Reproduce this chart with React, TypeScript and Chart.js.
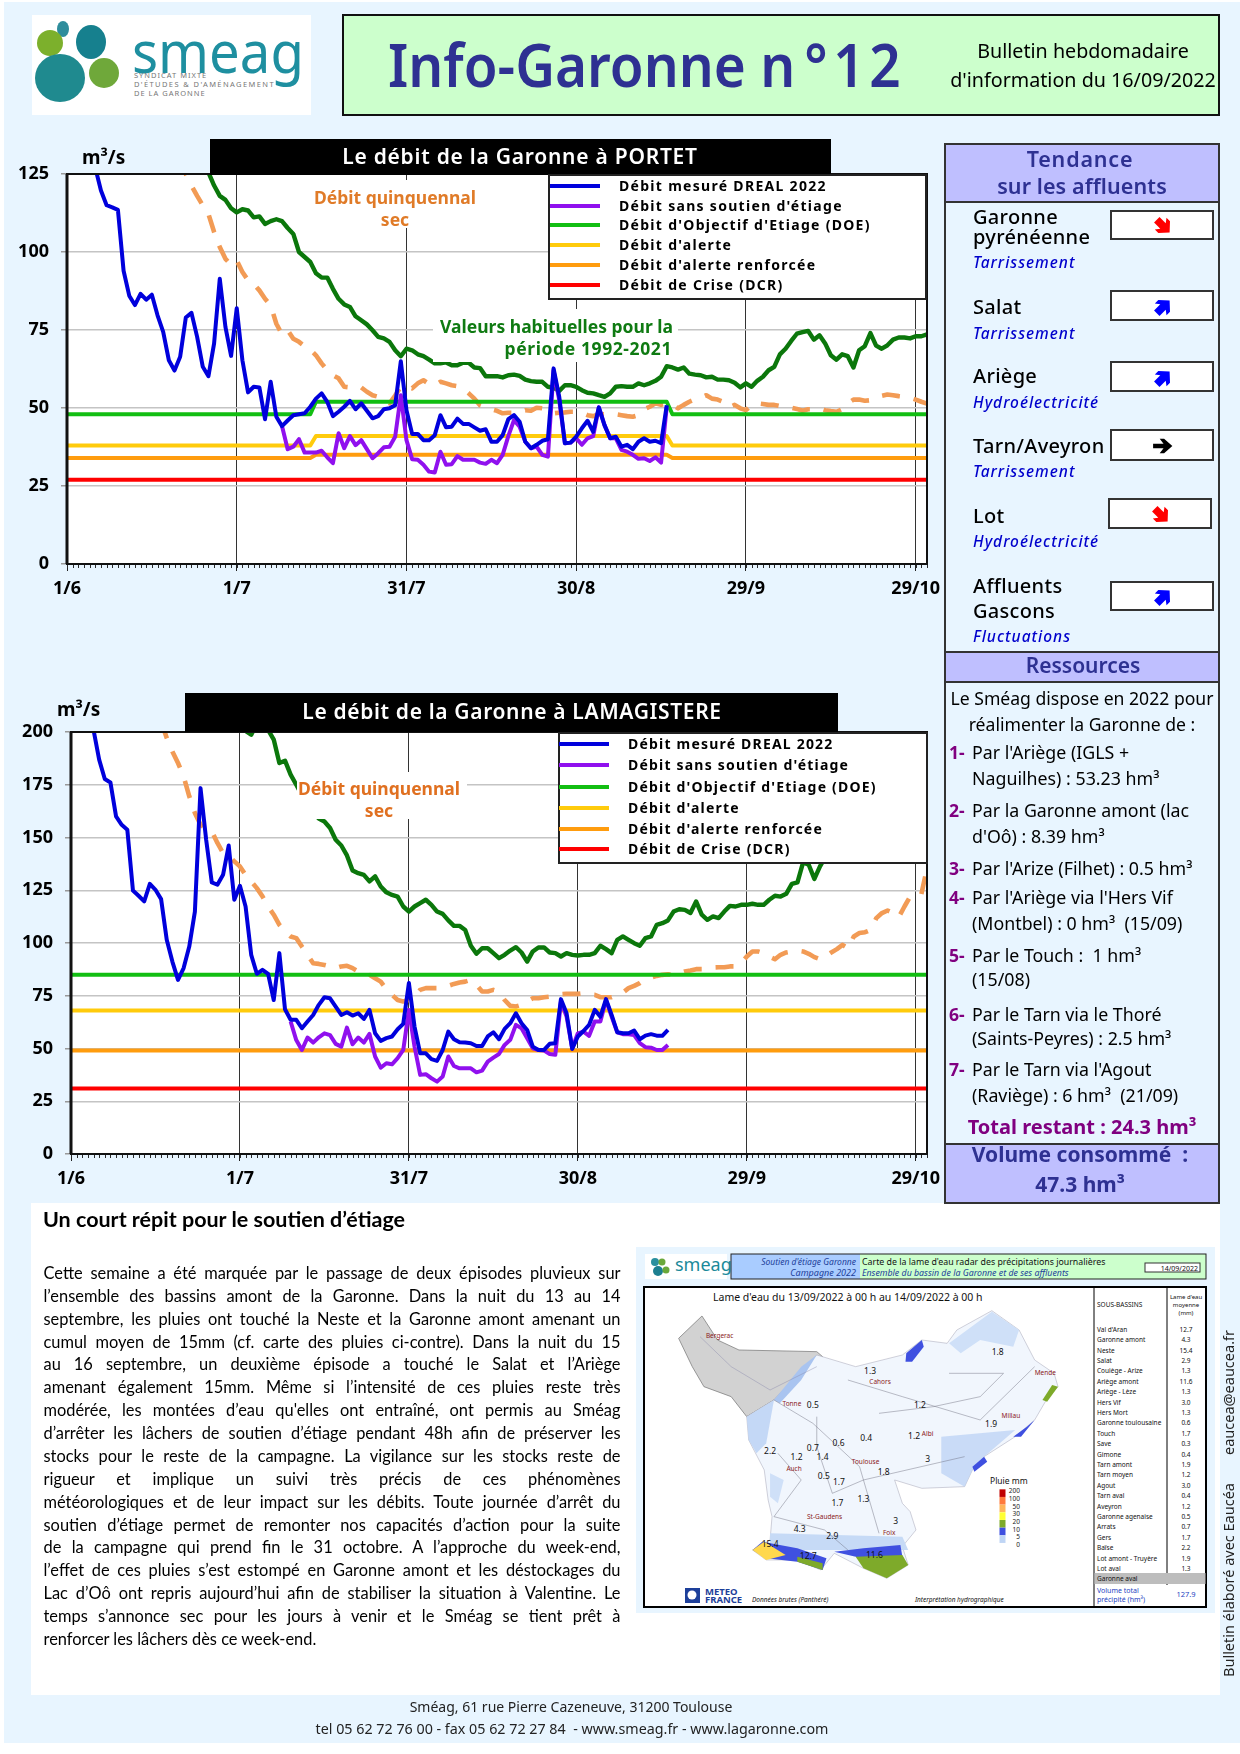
import React, { useEffect, useRef } from "react";
import { Chart, registerables } from "chart.js";

Chart.register(...registerables);

// ---------- shared axis data ----------
const xTickDays = [0, 30, 60, 90, 120, 150];
const xTickLabels = ["1/6", "1/7", "31/7", "30/8", "29/9", "29/10"];

// ---------- PORTET (index = days after 1 June) ----------
const portetMeasured = [
  null, null, null, null, 135, 127, 119.7, 115, 114.3, 113.5, 94, 86, 83, 86.6, 84.7, 86.3, 79.7, 74.4, 65.3, 62,
  66.4, 79, 80.5, 72.8, 63.2, 60.2, 70.7, 91.4, 76, 66.7, 82, 65.3, 55, 56.8, 56.6, 46.4, 58.4, 47.2, 44.2, 46,
  47.7, 48, 48.3, 50.4, 53, 54.7, 52, 47.4, 48.8, 50.4, 52.3, 49.6, 51.5, 49.1, 46.7, 47.4, 49.6, 49.9, 50.9, 65,
  49.3, 41.7, 41.7, 39.7, 39.7, 41.3, 47.7, 43.8, 44, 46.6, 44.9, 44.9, 43.8, 42.7, 43.2, 39.2, 39.2, 41.3, 46.4, 47.7,
  45.6, 39.2, 37.1, 38.2, 39.5, 40, 62.7, 53.6, 38.7, 38.9, 40.8, 43.5, 45.9, 42.4, 50.2, 44.5, 40.3, 40.8, 37.6, 38.2,
  36.8, 39.2, 40.3, 39.2, 39.5, 38.7, 50.9,
];
const portetNatural = [
  ...new Array(38).fill(null), 44.2, 36.8,
  37.6, 40, 35.7, 35.7, 35.7, 36.3, 34.2, 32.3, 41.9, 37.1, 41, 38.1, 39.7, 36.8, 33.9, 35.5, 37.4, 37.6, 40.8, 54.1,
  39.7, 33.6, 33.4, 31.8, 29.6, 29.3, 36, 31.8, 32, 34.6, 33.4, 33.4, 33.4, 32.5, 32.1, 33.4, 32.3, 35, 41, 46.1,
  44, 39.2, 37.1, 37.6, 35, 34.4, 62.1, 52.5, 38.7, 38.9, 40.3, 38.2, 40.3, 41, 50.2, 44.5, 40.3, 40.3, 36.6, 36,
  35, 33.7, 33.9, 33, 34.2, 32.5, 50.4,
];
const portetUsual = [
  ...new Array(24).fill(null), 131, 125.5, 121.3, 118, 116.7, 114, 112.7, 113.7, 113.3, 111.1, 111.4, 109, 109.9, 110.5, 109.9, 107.7,
  105.8, 100, 98.4, 96.8, 93.2, 91.8, 91.8, 88.2, 85, 83.2, 82.4, 79.4, 78.1, 76.8, 74.9, 72.8, 72.3, 71.2, 68.5, 66.6,
  69, 68.5, 67.2, 66.6, 65.5, 64.3, 64.3, 64.6, 63.7, 63.7, 64.5, 64.5, 63, 62.8, 60.2, 60.2, 60.2, 59.8, 60.5, 60.7,
  60.3, 59.1, 58.6, 58.4, 58.4, 56.8, 56.5, 55.5, 57.3, 57.3, 56.8, 55.7, 54.9, 54.7, 54.1, 53.6, 54.7, 56.8, 57, 56.8,
  56.8, 57.9, 57.3, 57.9, 58.7, 60, 63.4, 63, 62.3, 63, 61, 60.7, 60.5, 59.8, 60, 59.1, 59.1, 58.9, 58.1, 56.6,
  57.9, 56.8, 58.7, 60, 62.1, 63.2, 67.2, 69, 71.5, 73.8, 74.3, 74.7, 71.9, 73.3, 70.7, 66.9, 65.5, 67.2, 66.6, 63,
  68.5, 69.8, 74, 70, 69, 70.1, 71.9, 72.6, 72.6, 72.3, 73, 73, 73.6,
];
const portetDry = [
  ...new Array(20).fill(null), 130, 125, 121.3, 118, 114.9, 112.2, 106.4, 101.6, 97.8, 95.9, 97.3, 93.6, 90.9, 89.8, 87.7, 85, 82.9, 77, 73.6, 74.9,
  72.2, 71.2, 69.8, 68.7, 66.9, 64.3, 62.1, 60.5, 59.5, 56.8, 56.6, 57, 56.6, 55.2, 54.1, 53.6, 52.5, 51.5, 54, 56.8,
  57, 56.3, 57.9, 58.9, 57.7, 57.3, 58.4, 57.9, 57.3, 57, 56.3, 54.7, 53, 50.9, 50.2, 49.6, 49.1, 48.3, 48.5, 48.5,
  48.7, 49.3, 49.1, 50.1, 49.9, 48.8, 48.3, 48.5, 48.6, 48.8, 48.8, 48.5, 47.7, 47.4, 48, 48, 48.3, 48, 47.7, 47.4,
  47.2, 47.7, 49.6, 50.4, 51.5, 51, 51.5, 51, 49.9, 51, 52, 52.8, 53.3, 54.1, 53, 52.7, 52, 50.2, 51, 49.9,
  49.3, 51, 51.5, 51.3, 51, 51, 50.6, 50.4, 50.1, 49.7, 49.1, 49.6, 49.6, 49.9, 49.3, 49, 48.8, 49.6, 51.5, 52.7,
  52.7, 52.3, 52.5, 53.4, 53.9, 54.3, 54.1, 53.8, 53.6, 53.3, 52.7, 52, 51.4,
];
const portetThresholdDays = [0, 43, 44, 106, 107, 152];
const portetDoe = [48, 48, 52, 52, 48, 48];
const portetAlert = [38, 38, 41, 41, 38, 38];
const portetReinforced = [34, 34, 35, 35, 34, 34];
const portetCrisis = [27, 27, 27, 27, 27, 27];
const portetTicks = [0, 25, 50, 75, 100, 125];

// ---------- LAMAGISTERE ----------
const lamaMeasured = [
  null, null, null, null, 201, 186.9, 177.7, 176.1, 160, 156, 153.7, 124.9, 122.4, 119.7, 128, 125.2, 120.8, 101.5, 91.2, 82.5,
  88.1, 98.3, 114.9, 173.4, 148.9, 128.7, 127.6, 132.3, 146.2, 120.5, 127.1, 117.3, 94.4, 85.4, 87.3, 85.4, 73, 95.2, 68.6, 63.6,
  63.6, 59.6, 62.8, 65.9, 70.7, 74.3, 73.8, 69.9, 65.9, 67.2, 65.6, 66.7, 64, 68.3, 57.2, 53.6, 54.9, 55.7, 59.1, 61.7,
  81, 60.4, 47.7, 47.7, 45, 44.1, 49.3, 58, 54.4, 53, 52.8, 52.5, 51.2, 51.2, 55.7, 57.7, 54.4, 59.3, 62, 66.7,
  62, 58.8, 50.9, 49.3, 49.3, 52.2, 52.5, 73.4, 66.7, 49.8, 55.7, 58.3, 61.2, 68.3, 65.1, 73.4, 65.9, 57.7, 57.2, 57.2,
  58.5, 54.4, 56.1, 56.8, 56.1, 56, 58.8,
];
const lamaNatural = [
  ...new Array(39).fill(null), 62.8,
  54, 49.3, 55.2, 52.8, 55.3, 57.2, 56.3, 52.2, 50.9, 59.9, 52, 55.2, 52.8, 56.9, 46.2, 40.9, 43, 42.5, 45.4, 49.3,
  68.3, 50.9, 37.5, 37.8, 35.9, 34.3, 36.7, 46.2, 41.7, 40.6, 40.6, 40.6, 38.7, 39.5, 43.8, 45.7, 47.4, 51.7, 54.1, 61.2,
  59.6, 54.9, 50.1, 49.3, 49, 47.4, 47, 72.3, 65.1, 50.1, 57.2, 58, 56, 62.8, 62.8, 73, 65.1, 57.7, 56.8, 56.8,
  56.4, 52.5, 50.6, 50.4, 49.3, 49.3, 51.7,
];
const lamaUsual = [
  ...new Array(31).fill(null), 200.5, 198.7, 204, 204, 201, 196.4, 185.3, 186.4, 179.8,
  175, 170, 166, 162, 159, 157.6, 154.5, 148.9, 146.2, 141.5, 134.4, 133.1, 132.3, 129.2, 131.6, 126.8, 124, 122.8, 122, 117.3,
  114.9, 117.3, 118.9, 120.5, 118.1, 114.9, 113.8, 110.7, 108.1, 108.1, 106.2, 98.7, 94.9, 97.5, 97.5, 95.2, 92.8, 94.4, 96.4, 98,
  95.5, 91.2, 96, 97.9, 97.9, 95.5, 95.2, 93.6, 95.2, 94.4, 94.1, 94.4, 94.4, 95.2, 98.7, 97.1, 95.2, 101.5, 103.1, 101.5,
  99.9, 98.7, 102.3, 103.1, 108.6, 109.4, 110.7, 114.9, 116, 115.7, 114.2, 119.7, 113.4, 111, 112.6, 111.8, 114.9, 117.6, 117.3, 118.1,
  118.1, 118.6, 118.1, 118.1, 120.5, 122.4, 122, 123.3, 128, 128.7, 138.2, 137.1, 130.4, 136.3, 141,
];
const lamaDry = [
  ...new Array(16).fill(null), 205, 197.2, 190.8, 185.3,
  179, 169.5, 161.6, 156, 154.2, 152.9, 147.4, 142.6, 141.4, 138.7, 136.3, 132.3, 129.2, 126, 122.1, 117.3, 113.4, 108.6, 105.5, 103.1,
  102.3, 98.3, 94.4, 90.4, 90.1, 89.6, 88.9, 88.1, 88.9, 89.2, 88.1, 86.5, 85.7, 84.9, 83.3, 81.7, 78.1, 75.4, 73, 72.3,
  73, 74.6, 77.8, 78.6, 78.6, 78.6, 79, 79.7, 80.6, 81.3, 81.7, 82.5, 80.2, 77, 77, 77.8, 77, 73, 70.2, 69.9,
  70.7, 72.3, 73.8, 73.8, 74.3, 74.6, 75.1, 75.7, 75.9, 75.9, 75.9, 76.2, 75.6, 75.4, 74.3, 74.3, 74.3, 75.4, 76.5, 78.6,
  79.7, 81, 82.8, 83.6, 84.4, 84.9, 85.2, 84.9, 85.7, 86.5, 87, 87.6, 87.6, 88.1, 88.4, 88.5, 88.5, 88.9, 88.9, 90.4,
  93.6, 96, 96, 95.2, 93.6, 92.3, 94.4, 95.5, 96, 96.4, 96, 94.9, 93.3, 92.3, 93.6, 95.5, 97.1, 99.1, 97.5, 103.1,
  104.7, 105.1, 106.2, 111.8, 114.2, 115.4, 114.2, 112.3, 117.3, 122, 122.9, 123.2, 135.5,
];
const lamaThresholdDays = [0, 152];
const lamaDoe = [85, 85];
const lamaAlert = [68, 68];
const lamaReinforced = [49, 49];
const lamaCrisis = [31, 31];
const lamaTicks = [0, 25, 50, 75, 100, 125, 150, 175, 200];

// ---------- legends ----------
const legendLabels = [
  "Débit mesuré DREAL 2022",
  "Débit sans soutien d'étiage",
  "Débit d'Objectif d'Etiage (DOE)",
  "Débit d'alerte",
  "Débit d'alerte renforcée",
  "Débit de Crise (DCR)",
];
const C = {
  blue: "#0000DC", purple: "#9010EE", doe: "#12BE12", alert: "#FFCB0C", reinf: "#FF9C0E", crisis: "#FF0000",
  usual: "#0B770B", dry: "#F29B55", ink: "#2E3192", violet: "#800080", lilac: "#BFBFFF", bg: "#E8F5FF",
};
const legendColors = [C.blue, C.purple, C.doe, C.alert, C.reinf, C.crisis];

// ---------- texts ----------
const bodyLines = [
  "Cette semaine a été marquée par le passage de deux épisodes pluvieux sur",
  "l’ensemble des bassins amont de la Garonne. Dans la nuit du 13 au 14",
  "septembre, les pluies ont touché la Neste et la Garonne amont amenant un",
  "cumul moyen de 15mm (cf. carte des pluies ci-contre). Dans la nuit du 15",
  "au 16 septembre, un deuxième épisode a touché le Salat et l’Ariège",
  "amenant également 15mm. Même si l’intensité de ces pluies reste très",
  "modérée, les montées d’eau qu'elles ont entraîné, ont permis au Sméag",
  "d’arrêter les lâchers de soutien d’étiage pendant 48h afin de préserver les",
  "stocks pour le reste de la campagne. La vigilance sur les stocks reste de",
  "rigueur et implique un suivi très précis de ces phénomènes",
  "météorologiques et de leur impact sur les débits. Toute journée d’arrêt du",
  "soutien d’étiage permet de remonter nos capacités d’action pour la suite",
  "de la campagne qui prend fin le 31 octobre. A l’approche du week-end,",
  "l’effet de ces pluies s’est estompé en Garonne amont et les déstockages du",
  "Lac d’Oô ont repris aujourd’hui afin de stabiliser la situation à Valentine. Le",
  "temps s’annonce sec pour les jours à venir et le Sméag se tient prêt à",
];
const bodyLastLine = "renforcer les lâchers dès ce week-end.";

const tributaries = [
  { lines: [["Garonne", 217], ["pyrénéenne", 237]], sub: "Tarrissement", subY: 263, box: [1110, 210, 1214, 240], dir: 45, col: "#FF0000" },
  { lines: [["Salat", 307]], sub: "Tarrissement", subY: 334, box: [1110, 290, 1214, 321], dir: -45, col: "#0000FF" },
  { lines: [["Ariège", 376]], sub: "Hydroélectricité", subY: 403, box: [1110, 361, 1214, 392], dir: -45, col: "#0000FF" },
  { lines: [["Tarn/Aveyron", 446]], sub: "Tarrissement", subY: 472, box: [1110, 429, 1214, 461], dir: 0, col: "#000000" },
  { lines: [["Lot", 516]], sub: "Hydroélectricité", subY: 542, box: [1108, 498, 1212, 529], dir: 45, col: "#FF0000" },
  { lines: [["Affluents", 586], ["Gascons", 611]], sub: "Fluctuations", subY: 637, box: [1110, 581, 1214, 611], dir: -45, col: "#0000FF" },
];
const resources = [
  { n: "1-", y: 753, lines: [["Par l'Ariège (IGLS +", 753], ["Naguilhes) : 53.23 hm³", 779]] },
  { n: "2-", y: 811, lines: [["Par la Garonne amont (lac", 811], ["d'Oô) : 8.39 hm³", 837]] },
  { n: "3-", y: 869, lines: [["Par l'Arize (Filhet) : 0.5 hm³", 869]] },
  { n: "4-", y: 898, lines: [["Par l'Ariège via l'Hers Vif", 898], ["(Montbel) : 0 hm³  (15/09)", 924]] },
  { n: "5-", y: 956, lines: [["Par le Touch :  1 hm³", 956], ["(15/08)", 980]] },
  { n: "6-", y: 1015, lines: [["Par le Tarn via le Thoré", 1015], ["(Saints-Peyres) : 2.5 hm³", 1039]] },
  { n: "7-", y: 1070, lines: [["Par le Tarn via l'Agout", 1070], ["(Raviège) : 6 hm³  (21/09)", 1096]] },
];

const mapTableNames = ["Val d'Aran", "Garonne amont", "Neste", "Salat", "Couiège - Arize", "Ariège amont", "Ariège - Lèze", "Hers Vif", "Hers Mort", "Garonne toulousaine", "Touch", "Save", "Gimone", "Tarn amont", "Tarn moyen", "Agout", "Tarn aval", "Aveyron", "Garonne agenaise", "Arrats", "Gers", "Baïse", "Lot amont - Truyère", "Lot aval"];
const mapTableValues = ["12.7", "4.3", "15.4", "2.9", "1.3", "11.6", "1.3", "3.0", "1.3", "0.6", "1.7", "0.3", "0.4", "1.9", "1.2", "3.0", "0.4", "1.2", "0.5", "0.7", "1.7", "2.2", "1.9", "1.3"];
const mapNumbers: [string, number, number][] = [["1.3", 617, 393], ["1.8", 945, 337], ["0.5", 470, 495], ["1.2", 745, 495], ["1.9", 928, 553], ["0.4", 607, 595], ["1.2", 730, 587], ["3", 765, 657], ["2.2", 360, 633], ["1.2", 428, 652], ["0.7", 470, 624], ["0.6", 536, 608], ["1.4", 495, 651], ["0.5", 498, 708], ["1.7", 537, 725], ["1.3", 600, 778], ["1.7", 533, 789], ["1.8", 652, 697], ["3", 683, 842], ["4.3", 436, 866], ["2.9", 520, 888], ["15.4", 360, 913], ["12.7", 458, 948], ["11.6", 628, 945]];
const mapCities: [string, number, number][] = [["Bergerac", 195, 288], ["Cahors", 615, 425], ["Mende", 1040, 400], ["Tonne", 392, 492], ["Millau", 955, 527], ["Albi", 750, 583], ["Auch", 402, 687], ["Toulouse", 570, 665], ["St-Gaudens", 455, 832], ["Foix", 650, 880]];
const rainLabels = ["200", "100", "50", "30", "20", "10", "5", "0"];
const rainColors = ["#C00000", "#FF7A3D", "#FFB55A", "#FFFF33", "#7EAA2A", "#3F50E0", "#BFD5F5"];

// ---------- chart ----------
const framePlugin = {
  id: "frame",
  beforeDraw(chart: any) {
    const { ctx, chartArea: a } = chart;
    ctx.save();
    ctx.fillStyle = "#FFFFFF";
    ctx.fillRect(a.left, a.top, a.right - a.left, a.bottom - a.top);
    ctx.restore();
  },
  afterDatasetsDraw(chart: any) {
    const { ctx, chartArea: a, scales } = chart;
    ctx.save();
    ctx.strokeStyle = "#2A2A2A";
    ctx.lineWidth = 1;
    for (let d = 0; d <= 152; d++) {
      const x = Math.round(scales.x.getPixelForValue(d)) + 0.5;
      ctx.beginPath();
      ctx.moveTo(x, a.bottom);
      ctx.lineTo(x, a.bottom + 4);
      ctx.stroke();
    }
    ctx.strokeStyle = "#111111";
    ctx.lineWidth = 2;
    ctx.strokeRect(a.left, a.top, a.right - a.left, a.bottom - a.top);
    ctx.lineWidth = 3;
    ctx.beginPath();
    ctx.moveTo(a.left, a.top);
    ctx.lineTo(a.left, a.bottom);
    ctx.stroke();
    ctx.restore();
  },
};

const zip = (values: (number | null)[]) => values.map((y, x) => ({ x, y }));
const zipDays = (days: number[], values: number[]) => values.map((y, i) => ({ x: days[i], y }));

type ChartProps = {
  top: number; width: number; height: number; padTop: number; yWidth: number; yMax: number; yTicks: number[];
  measured: (number | null)[]; natural: (number | null)[]; usual: (number | null)[]; dry: (number | null)[];
  days: number[]; doe: number[]; alert: number[]; reinf: number[]; crisis: number[];
};

function FlowChart(p: ChartProps) {
  const ref = useRef<HTMLCanvasElement>(null);
  useEffect(() => {
    const line = (label: string, data: any[], color: string, extra: any = {}) => ({
      label, data, borderColor: color, backgroundColor: color, borderWidth: 4, pointRadius: 0, tension: 0,
      borderJoinStyle: "round", clip: 0, ...extra,
    });
    const noPad = (s: any) => { s.paddingLeft = 0; s.paddingRight = 0; s.paddingTop = 0; s.paddingBottom = 0; };
    const chart = new Chart(ref.current as HTMLCanvasElement, {
      type: "line",
      data: {
        datasets: [
          line(legendLabels[0], zip(p.measured), C.blue),
          line(legendLabels[1], zip(p.natural), C.purple),
          line(legendLabels[2], zipDays(p.days, p.doe), C.doe),
          line(legendLabels[3], zipDays(p.days, p.alert), C.alert),
          line(legendLabels[4], zipDays(p.days, p.reinf), C.reinf),
          line(legendLabels[5], zipDays(p.days, p.crisis), C.crisis),
          line("Valeurs habituelles pour la période 1992-2021", zip(p.usual), C.usual, { borderWidth: 4.4 }),
          line("Débit quinquennal sec", zip(p.dry), C.dry, { borderDash: [18, 14], borderWidth: 4.6 }),
        ],
      },
      options: {
        animation: false,
        responsive: false,
        parsing: { xAxisKey: "x", yAxisKey: "y" },
        layout: { padding: { top: p.padTop, right: 13, left: 0, bottom: 0 } },
        plugins: { legend: { display: false }, tooltip: { enabled: false } },
        scales: {
          x: {
            type: "linear",
            min: 0,
            max: 152,
            afterBuildTicks: (axis: any) => { axis.ticks = xTickDays.map((value) => ({ value })); },
            afterFit: (s: any) => { s.height = 36; noPad(s); },
            border: { display: false },
            grid: { color: "#333333", lineWidth: 1, tickLength: 7, tickColor: "#222222" },
            ticks: {
              autoSkip: false, maxRotation: 0, padding: 7, color: "#000",
              font: { family: "'Noto Sans'", weight: "bold", size: 18 },
              callback: (v: any) => xTickLabels[xTickDays.indexOf(Number(v))] ?? "",
            },
          },
          y: {
            type: "linear",
            min: 0,
            max: p.yMax,
            afterBuildTicks: (axis: any) => { axis.ticks = p.yTicks.map((value) => ({ value })); },
            afterFit: (s: any) => { s.width = p.yWidth; noPad(s); },
            border: { display: false },
            grid: { color: "#C4C4C4", lineWidth: 1.5, tickLength: 6, tickColor: "#999999" },
            ticks: { padding: 12, color: "#000", font: { family: "'Noto Sans'", weight: "bold", size: 18 } },
          },
        },
      },
      plugins: [framePlugin],
    } as any);
    return () => chart.destroy();
  }, []);
  return <canvas ref={ref} width={p.width} height={p.height} style={{ position: "absolute", left: 0, top: p.top, width: p.width, height: p.height }} />;
}

// ---------- DOM helpers ----------
const SANS = "'Noto Sans', sans-serif";
type TxtProps = { x: number; y: number; a?: "l" | "c" | "r"; s: number; w?: number; c?: string; i?: boolean; f?: string; ls?: number; children: React.ReactNode; z?: number; sx?: number };
function Txt({ x, y, a = "l", s, w = 400, c = "#000", i, f = SANS, ls = 0, children, z = 5, sx = 1 }: TxtProps) {
  const tx = a === "l" ? "0" : a === "c" ? "-50%" : "-100%";
  return (
    <div style={{ position: "absolute", left: x, top: y, transform: `translate(${tx},-50%) scaleX(${sx})`, transformOrigin: "0 50%", fontSize: s, fontWeight: w, color: c, fontStyle: i ? "italic" : "normal", fontFamily: f, letterSpacing: ls, whiteSpace: "pre", lineHeight: 1.1, zIndex: z }}>
      {children}
    </div>
  );
}
function Rect({ x, y, x2, y2, bg, b, z = 3 }: { x: number; y: number; x2: number; y2: number; bg?: string; b?: string; z?: number }) {
  return <div style={{ position: "absolute", left: x, top: y, width: x2 - x, height: y2 - y, background: bg, border: b, boxSizing: "border-box", zIndex: z }} />;
}
function Legend({ x, y, x2, y2, sx, sx2, tx, ys, ls }: { x: number; y: number; x2: number; y2: number; sx: number; sx2: number; tx: number; ys: number[]; ls: number }) {
  return (
    <>
      <Rect x={x} y={y} x2={x2} y2={y2} bg="#fff" b="2px solid #222" z={4} />
      {legendLabels.map((t, i) => (
        <React.Fragment key={t}>
          <div style={{ position: "absolute", left: sx, top: ys[i] - 2, width: sx2 - sx, height: 4, background: legendColors[i], zIndex: 5 }} />
          <Txt x={tx} y={ys[i]} s={14} w={700} ls={ls}>{t}</Txt>
        </React.Fragment>
      ))}
    </>
  );
}
function Arrow({ cx, cy, dir, col }: { cx: number; cy: number; dir: number; col: string }) {
  return (
    <svg width={22} height={22} viewBox="0 0 20 20" style={{ position: "absolute", left: cx - 11, top: cy - 11, zIndex: 6, transform: `rotate(${dir}deg)` }}>
      <path d={dir === 0 ? "M1 8H10.5L7 3.5H11L18.5 10L11 16.5H7L10.5 12H1Z" : "M2 6.5H10L7 2.5H11.5L18.5 10L11.5 17.5H7L10 13.5H2Z"} fill={col} />
    </svg>
  );
}

const mx = (x: number) => 630 + x / 2.57;
const my = (y: number) => 1240 + y / 3;

function MapPicture() {
  return (
    <svg width={1240} height={1754} style={{ position: "absolute", left: 0, top: 0, zIndex: 2, pointerEvents: "none" }}>
      <rect x={636} y={1247} width={579} height={366} fill={C.bg} />
      <rect x={645} y={1254} width={82} height={25} fill="#fff" />
      <circle cx={655} cy={1262} r={4} fill="#2a8f9e" /><circle cx={662} cy={1262} r={3.5} fill="#6aa83a" /><circle cx={658} cy={1271} r={5} fill="#1c7f90" /><circle cx={666} cy={1270} r={3.5} fill="#6aa83a" />
      <text x={675} y={1271} fontSize={18} fill="#1b8a9a" fontFamily="'Noto Sans'">smeag</text>
      <rect x={731} y={1254} width={129} height={25} fill="#A9CCFF" />
      <rect x={860} y={1254} width={346} height={25} fill="#CCFFCC" />
      <rect x={731} y={1254} width={475} height={25} fill="none" stroke="#222" strokeWidth={1} />
      <text x={856} y={1265} textAnchor="end" fontSize={8.5} fontStyle="italic" fill="#1d3f9a" fontFamily="'Noto Sans'">Soutien d'étiage Garonne</text>
      <text x={856} y={1276} textAnchor="end" fontSize={9} fontStyle="italic" fill="#1d3f9a" fontFamily="'Noto Sans'">Campagne 2022</text>
      <text x={862} y={1265} fontSize={8.8} fill="#111" fontFamily="'Noto Sans'">Carte de la lame d'eau radar des précipitations journalières</text>
      <text x={862} y={1276} fontSize={8.8} fontStyle="italic" fill="#1d3f9a" fontFamily="'Noto Sans'">Ensemble du bassin de la Garonne et de ses affluents</text>
      <rect x={1145} y={1263} width={55} height={9} fill="#fff" stroke="#333" />
      <text x={1198} y={1270.5} textAnchor="end" fontSize={7} fill="#111" fontFamily="'Noto Sans'">14/09/2022</text>
      <rect x={644} y={1287} width={562} height={320} fill="#fff" stroke="#000" strokeWidth={2} />
      <line x1={1094} y1={1287} x2={1094} y2={1607} stroke="#000" strokeWidth={1} />
      <line x1={1167} y1={1287} x2={1167} y2={1585} stroke="#000" strokeWidth={1} />
      <rect x={1094.5} y={1573} width={111} height={11} fill="#BDBDBD" />
      <text x={713} y={1301} fontSize={10.5} fill="#111" fontFamily="'Noto Sans'">Lame d'eau du 13/09/2022 à 00 h au 14/09/2022 à 00 h</text>
      <g transform="translate(630 1240) scale(0.3891 0.3333)">
        <polygon points="125,295 185,228 225,300 280,330 480,335 495,350 420,420 370,480 300,530 260,470 190,440 160,380" fill="#D2D2D2" stroke="#777" strokeWidth={2} />
        <polygon points="300,530 370,480 480,345 580,380 700,345 750,300 815,310 840,270 930,212 1000,270 1040,360 1090,400 1100,440 1070,480 1040,540 990,590 910,650 880,690 860,740 750,745 680,720 700,790 720,815 735,870 700,920 715,975 660,1015 600,985 525,940 490,990 430,960 350,960 315,930 360,900 365,830 355,780 345,690 305,600" fill="#F1F6FD" stroke="#AAB" strokeWidth={1.5} />
        <polygon points="300,530 370,480 350,610 325,640 305,600" fill="#BFD5F5" opacity={0.9} />
        <polygon points="820,310 930,215 1000,270 985,320 900,300 850,340" fill="#CFE0F8" />
        <polygon points="800,590 990,570 910,650 880,690 860,740 800,700" fill="#BFD5F5" opacity={0.8} />
        <polygon points="360,700 395,720 380,790 360,770" fill="#CFE0F8" />
        <polygon points="480,345 440,380 370,480 385,490 440,420" fill="#A9C4F0" />
        <polygon points="360,880 700,890 715,930 360,930" fill="#C6DAF6" />
        <polygon points="340,905 430,925 505,955 495,990 430,965 350,955 315,930" fill="#3F50E0" />
        <polygon points="525,935 600,925 695,915 700,950 620,965 580,950" fill="#3F50E0" />
        <polygon points="580,950 700,945 715,975 660,1015 600,985" fill="#7EAA2A" />
        <polygon points="430,950 495,970 495,990 430,965" fill="#7EAA2A" />
        <polygon points="315,930 345,905 400,945 350,960" fill="#FFD84D" />
        <polygon points="710,340 750,300 755,320 725,365 708,365" fill="#3F50E0" />
        <polygon points="1060,480 1085,435 1100,440 1072,485" fill="#7EAA2A" />
        <polygon points="985,590 1020,560 1040,540 1005,590" fill="#3F50E0" />
        <polygon points="880,680 910,650 918,665 885,695" fill="#3F50E0" />
        <polyline points="370,480 470,550 590,680 600,720 640,880" fill="none" stroke="#667" strokeWidth={1.2} />
        <polyline points="560,420 700,470 900,540 1040,380" fill="none" stroke="#667" strokeWidth={1.2} />
        <polyline points="480,530 480,620 520,760 600,720 860,650" fill="none" stroke="#667" strokeWidth={1.2} />
        <polyline points="380,640 440,720 370,830 500,870 560,930" fill="none" stroke="#667" strokeWidth={1.2} />
        <polyline points="820,400 960,400 900,470 780,500 640,520" fill="none" stroke="#667" strokeWidth={1.2} />
        <polyline points="180,290 260,380 360,450 480,380" fill="none" stroke="#88A" strokeWidth={1.2} />
      </g>
      {mapNumbers.map(([t, x, y], i) => <text key={i} x={mx(x)} y={my(y) + 3} fontSize={8.5} textAnchor="middle" fill="#111" fontFamily="'Noto Sans'">{t}</text>)}
      {mapCities.map(([t, x, y], i) => <text key={i} x={mx(x)} y={my(y) + 2} fontSize={6.5} fill="#8B1A1A" fontFamily="'Noto Sans'">{t}</text>)}
      <text x={990} y={1484} fontSize={8.5} fill="#111" fontFamily="'Noto Sans'">Pluie mm</text>
      {rainColors.map((c, i) => <rect key={c} x={999.5} y={my(748 + 23 * i)} width={6} height={7.6} fill={c} />)}
      {rainLabels.map((t, i) => <text key={t} x={1020} y={my(760 + 23 * i)} textAnchor="end" fontSize={6.5} fill="#222" fontFamily="'Noto Sans'">{t}</text>)}
      <rect x={685} y={1588} width={15} height={15} fill="#1d3f9a" /><circle cx={692} cy={1595} r={4.5} fill="#fff" />
      <text x={705} y={1595} fontSize={9.5} fontWeight={700} fill="#1d3f9a" fontFamily="'Noto Sans'">METEO</text>
      <text x={705} y={1603} fontSize={9.5} fontWeight={700} fill="#1d3f9a" fontFamily="'Noto Sans'">FRANCE</text>
      <text x={752} y={1602} fontSize={6.5} fontStyle="italic" fill="#111" fontFamily="'Noto Sans'">Données brutes (Panthéré)</text>
      <text x={915} y={1602} fontSize={6.5} fontStyle="italic" fill="#111" fontFamily="'Noto Sans'">Interprétation hydrographique</text>
      <text x={1097} y={1307} fontSize={6.5} fill="#111" fontFamily="'Noto Sans'">SOUS-BASSINS</text>
      <text x={1186} y={1299} textAnchor="middle" fontSize={6} fill="#111" fontFamily="'Noto Sans'">Lame d'eau</text>
      <text x={1186} y={1307} textAnchor="middle" fontSize={6} fill="#111" fontFamily="'Noto Sans'">moyenne</text>
      <text x={1186} y={1315} textAnchor="middle" fontSize={6} fill="#111" fontFamily="'Noto Sans'">(mm)</text>
      {mapTableNames.map((t, i) => <text key={t} x={1097} y={my(268 + 31.2 * i) + 2.5} fontSize={6.5} fill="#111" fontFamily="'Noto Sans'">{t}</text>)}
      {mapTableValues.map((t, i) => <text key={i} x={1186} y={my(268 + 31.2 * i) + 2.5} textAnchor="middle" fontSize={6.5} fill="#111" fontFamily="'Noto Sans'">{t}</text>)}
      <text x={1097} y={1581} fontSize={6.5} fill="#111" fontFamily="'Noto Sans'">Garonne aval</text>
      <text x={1097} y={1593} fontSize={7} fill="#1d3fbf" fontFamily="'Noto Sans'">Volume total</text>
      <text x={1097} y={1602} fontSize={7} fill="#1d3fbf" fontFamily="'Noto Sans'">précipité (hm³)</text>
      <text x={1186} y={1597} textAnchor="middle" fontSize={7.5} fill="#1d3fbf" fontFamily="'Noto Sans'">127.9</text>
    </svg>
  );
}

function Logo() {
  return (
    <svg width={1240} height={130} style={{ position: "absolute", left: 0, top: 0, zIndex: 2, pointerEvents: "none" }}>
      <rect x={32} y={15} width={279} height={100} fill="#fff" />
      <ellipse cx={63} cy={29} rx={6} ry={8} fill="#2E8D9C" />
      <ellipse cx={50} cy={43} rx={13} ry={13} fill="#7CB02C" />
      <ellipse cx={91} cy={42} rx={15} ry={17} fill="#16808E" />
      <ellipse cx={60} cy={78} rx={25} ry={24} fill="#1F8A8F" />
      <ellipse cx={104} cy={73} rx={15} ry={15} fill="#6FA83A" />
      <text x={132} y={73} fontSize={59} fill="#1E8FA0" fontFamily="'Noto Sans'" textLength={172} lengthAdjust="spacingAndGlyphs">smeag</text>
      <text x={134} y={78} fontSize={7.5} letterSpacing={1} fill="#777" fontFamily="'Noto Sans'">SYNDICAT MIXTE</text>
      <text x={134} y={87} fontSize={7.5} letterSpacing={1.4} fill="#777" fontFamily="'Noto Sans'">D'ÉTUDES &amp; D'AMÉNAGEMENT</text>
      <text x={134} y={96} fontSize={7.5} letterSpacing={1} fill="#777" fontFamily="'Noto Sans'">DE LA GARONNE</text>
    </svg>
  );
}

export default function App() {
  return (
    <div style={{ position: "relative", width: 1240, height: 1754, overflow: "hidden", background: "#fff", fontFamily: SANS }}>
      <style>{"body{margin:0;background:#fff}"}</style>
      <Rect x={4} y={2} x2={1240} y2={1743} bg={C.bg} z={0} />
      <Rect x={31} y={1203} x2={1220} y2={1695} bg="#fff" z={1} />
      <Logo />

      {/* header */}
      <Rect x={342} y={14} x2={1220} y2={116} bg="#CCFFCC" b="2px solid #111" />
      <Txt x={388} y={64} s={60} w={600} c={C.ink} sx={0.915}>
        Info-Garonne <span>n</span><span style={{ marginLeft: 10 }}>°</span><span style={{ marginLeft: 6 }}>1</span><span style={{ marginLeft: 5 }}>2</span>
      </Txt>
      <Txt x={1083} y={51} a="c" s={19.7}>Bulletin hebdomadaire</Txt>
      <Txt x={1083} y={80} a="c" s={19.7}>d'information du 16/09/2022</Txt>

      {/* PORTET */}
      <FlowChart top={150} width={940} height={450} padTop={24} yWidth={67} yMax={125} yTicks={portetTicks}
        measured={portetMeasured} natural={portetNatural} usual={portetUsual} dry={portetDry}
        days={portetThresholdDays} doe={portetDoe} alert={portetAlert} reinf={portetReinforced} crisis={portetCrisis} />
      <Rect x={210} y={139} x2={831} y2={175} bg="#000" z={3} />
      <Txt x={520} y={157} a="c" s={21} w={600} c="#fff" ls={0.75}>Le débit de la Garonne à PORTET</Txt>
      <Txt x={82} y={157} s={19} w={700}>m³/s</Txt>
      <Legend x={548} y={174} x2={927} y2={300} sx={550} sx2={600} tx={619} ys={[186, 206, 225, 245, 265, 285]} ls={1.3} />
      <Rect x={312} y={180} x2={480} y2={228} bg="#fff" z={3} />
      <Txt x={395} y={198} a="c" s={17.5} w={700} c="#E07B28">Débit quinquennal</Txt>
      <Txt x={395} y={220} a="c" s={17.5} w={700} c="#E07B28">sec</Txt>
      <Rect x={433} y={309} x2={678} y2={362} bg="#fff" z={3} />
      <Txt x={673} y={327} a="r" s={17.5} w={700} c="#0F7A12">Valeurs habituelles pour la</Txt>
      <Txt x={672} y={349} a="r" s={17.5} w={700} c="#0F7A12" ls={0.6}>période 1992-2021</Txt>

      {/* LAMAGISTERE */}
      <FlowChart top={700} width={940} height={490} padTop={32} yWidth={71} yMax={200} yTicks={lamaTicks}
        measured={lamaMeasured} natural={lamaNatural} usual={lamaUsual} dry={lamaDry}
        days={lamaThresholdDays} doe={lamaDoe} alert={lamaAlert} reinf={lamaReinforced} crisis={lamaCrisis} />
      <Rect x={185} y={693} x2={838} y2={732} bg="#000" z={3} />
      <Txt x={512} y={712} a="c" s={21} w={600} c="#fff" ls={0.65}>Le débit de la Garonne à LAMAGISTERE</Txt>
      <Txt x={57} y={709} s={19} w={700}>m³/s</Txt>
      <Legend x={558} y={732} x2={928} y2={864} sx={559} sx2={609} tx={628} ys={[744, 765, 787, 808, 829, 849]} ls={1.2} />
      <Rect x={297} y={772} x2={467} y2={819} bg="#fff" z={3} />
      <Txt x={379} y={789} a="c" s={17.5} w={700} c="#E07020">Débit quinquennal</Txt>
      <Txt x={379} y={811} a="c" s={17.5} w={700} c="#E07020">sec</Txt>

      {/* right column */}
      <Rect x={944} y={143} x2={1220} y2={1204} b="2.5px solid #333" z={3} />
      <Rect x={945} y={144} x2={1219} y2={202} bg={C.lilac} z={2} />
      <Rect x={945} y={201} x2={1219} y2={203} bg="#333" z={3} />
      <Txt x={1080} y={159} a="c" s={21.5} w={600} c={C.ink} ls={0.8}>Tendance</Txt>
      <Txt x={1082} y={186} a="c" s={21.5} w={600} c={C.ink} ls={0.1}>sur les affluents</Txt>
      {tributaries.map((t) => (
        <React.Fragment key={t.sub + t.subY}>
          {t.lines.map(([label, y]) => <Txt key={label as string} x={973} y={y as number} s={20} w={500} ls={0.3}>{label}</Txt>)}
          <Txt x={973} y={t.subY} s={15.5} i w={500} c="#0000CC" ls={1}>{t.sub}</Txt>
          <Rect x={t.box[0]} y={t.box[1]} x2={t.box[2]} y2={t.box[3]} bg="#fff" b="2px solid #333" z={4} />
          <Arrow cx={(t.box[0] + t.box[2]) / 2 + 1} cy={(t.box[1] + t.box[3]) / 2 + 1} dir={t.dir} col={t.col} />
        </React.Fragment>
      ))}
      <Rect x={945} y={652} x2={1219} y2={682} bg={C.lilac} z={2} />
      <Rect x={945} y={651} x2={1219} y2={653} bg="#333" z={3} />
      <Rect x={945} y={681} x2={1219} y2={683} bg="#333" z={3} />
      <Txt x={1083} y={666} a="c" s={21} w={600} c={C.ink}>Ressources</Txt>
      <Txt x={1082} y={699} a="c" s={17.6}>Le Sméag dispose en 2022 pour</Txt>
      <Txt x={1082} y={725} a="c" s={17.6}>réalimenter la Garonne de :</Txt>
      {resources.map((r) => (
        <React.Fragment key={r.n}>
          <Txt x={949} y={r.y} s={17.6} w={700} c={C.violet}>{r.n}</Txt>
          {r.lines.map(([t, y]) => <Txt key={t as string} x={972} y={y as number} s={17.8}>{t}</Txt>)}
        </React.Fragment>
      ))}
      <Txt x={1082} y={1127} a="c" s={20} w={700} c={C.violet}>Total restant : 24.3 hm³</Txt>
      <Rect x={945} y={1144} x2={1219} y2={1203} bg={C.lilac} z={2} />
      <Rect x={945} y={1143} x2={1219} y2={1145} bg="#333" z={3} />
      <Txt x={1080} y={1155} a="c" s={21} w={700} c={C.ink}>Volume consommé  :</Txt>
      <Txt x={1080} y={1185} a="c" s={21} w={700} c={C.ink}>47.3 hm³</Txt>

      {/* article */}
      <Txt x={43} y={1220} s={21.5} w={700} f="Lato, sans-serif">Un court répit pour le soutien d’étiage</Txt>
      {bodyLines.map((t, i) => (
        <div key={i} style={{ position: "absolute", left: 43.5, top: 1273 - 11 + i * 22.87, width: 577, height: 22, lineHeight: "22px", fontFamily: "Lato, sans-serif", fontSize: 16.4, color: "#000", textAlign: "justify", textAlignLast: "justify", zIndex: 5 }}>{t}</div>
      ))}
      <div style={{ position: "absolute", left: 43.5, top: 1273 - 11 + 16 * 22.87, lineHeight: "22px", fontFamily: "Lato, sans-serif", fontSize: 16.4, color: "#000", zIndex: 5 }}>{bodyLastLine}</div>

      <MapPicture />

      {/* vertical credits */}
      <div style={{ position: "absolute", left: 1227, top: 1677, transform: "rotate(-90deg)", transformOrigin: "0 0", marginLeft: -9, fontSize: 14.5, whiteSpace: "pre", color: "#222", zIndex: 5 }}>Bulletin élaboré avec Eaucéa</div>
      <div style={{ position: "absolute", left: 1227, top: 1455, transform: "rotate(-90deg)", transformOrigin: "0 0", marginLeft: -9, fontSize: 14.5, whiteSpace: "pre", color: "#222", zIndex: 5 }}>eaucea@eaucea.fr</div>

      {/* footer */}
      <Txt x={571} y={1707} a="c" s={14} c="#222">Sméag, 61 rue Pierre Cazeneuve, 31200 Toulouse</Txt>
      <Txt x={572} y={1729} a="c" s={14.3} c="#222">tel 05 62 72 76 00 - fax 05 62 72 27 84  - www.smeag.fr - www.lagaronne.com</Txt>
    </div>
  );
}
